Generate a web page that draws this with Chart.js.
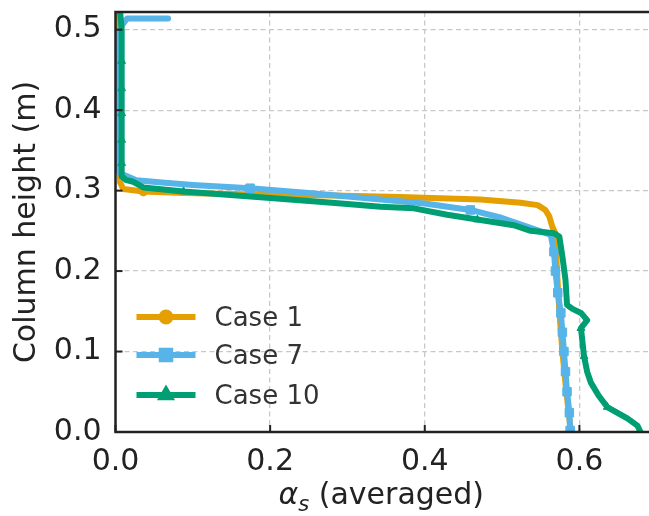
<!DOCTYPE html>
<html>
<head>
<meta charset="utf-8">
<script src="https://cdn.jsdelivr.net/npm/chart.js@4.4.1/dist/chart.umd.min.js"></script>
<style>
html, body { margin: 0; padding: 0; background: #fff; }
#caixa { position: relative; width: 649px; height: 516px; }
</style>
</head>
<body>
<div id="caixa"><canvas id="grafico"></canvas></div>
<script>
// alpha_s (averaged) vs column height
var case1Alpha  = [0.004, 0.003, 0.004, 0.005, 0.005, 0.006, 0.010, 0.036, 0.088, 0.196, 0.282, 0.368, 0.472, 0.524, 0.546, 0.556, 0.561, 0.565, 0.569, 0.571, 0.574, 0.578, 0.582, 0.586, 0.589];
var case1Height = [0.522, 0.505, 0.450, 0.400, 0.350, 0.310, 0.302, 0.299, 0.297, 0.295, 0.294, 0.292, 0.289, 0.285, 0.282, 0.276, 0.268, 0.255, 0.247, 0.200, 0.150, 0.100, 0.060, 0.025, 0.000];
var case1Marks  = [1, 7];

var case7Alpha  = [0.068, 0.015, 0.008, 0.003, 0.003, 0.003, 0.003, 0.003, 0.003, 0.003, 0.005, 0.012, 0.027, 0.060, 0.100, 0.174, 0.250, 0.343, 0.400, 0.459, 0.500, 0.533, 0.563, 0.567, 0.569, 0.572, 0.576, 0.578, 0.580, 0.582, 0.584, 0.587, 0.588];
var case7Height = [0.514, 0.514, 0.505, 0.490, 0.477, 0.450, 0.421, 0.394, 0.363, 0.334, 0.322, 0.319, 0.313, 0.310, 0.307, 0.303, 0.297, 0.289, 0.284, 0.276, 0.266, 0.255, 0.245, 0.224, 0.200, 0.173, 0.148, 0.124, 0.100, 0.075, 0.050, 0.024, 0.002];
var case7Marks  = [4, 5, 6, 7, 8, 9, 15, 19, 23, 24, 25, 26, 27, 28, 29, 30, 31, 32];

var case10Alpha  = [0.006, 0.008, 0.008, 0.008, 0.008, 0.008, 0.008, 0.008, 0.014, 0.023, 0.036, 0.088, 0.196, 0.280, 0.343, 0.386, 0.429, 0.468, 0.515, 0.537, 0.567, 0.574, 0.578, 0.582, 0.584, 0.591, 0.602, 0.610, 0.602, 0.606, 0.610, 0.615, 0.625, 0.636, 0.662, 0.675, 0.679];
var case10Height = [0.522, 0.500, 0.461, 0.427, 0.396, 0.363, 0.334, 0.318, 0.313, 0.311, 0.304, 0.299, 0.291, 0.285, 0.280, 0.278, 0.270, 0.264, 0.257, 0.250, 0.247, 0.243, 0.218, 0.189, 0.158, 0.153, 0.148, 0.139, 0.129, 0.094, 0.075, 0.061, 0.045, 0.031, 0.017, 0.008, 0.000];
var case10Marks  = [2, 3, 4, 5, 6, 11, 17, 28, 29, 33];

var seriesNames  = ['Case 1', 'Case 7', 'Case 10'];
var seriesColors = ['#E69F00', '#56B4E9', '#009E73'];
var xTicks = [0.0, 0.2, 0.4, 0.6];
var yTicks = [0.0, 0.1, 0.2, 0.3, 0.4, 0.5];

var FONTE = "'DejaVu Sans', sans-serif";

function pontos(xs, ys) {
    return xs.map(function (x, i) { return { x: x, y: ys[i] }; });
}

function raio(marks, r) {
    return function (c) { return marks.indexOf(c.dataIndex) >= 0 ? r : 0; };
}

function linha(ctx, x1, y1, x2, y2) {
    ctx.beginPath();
    ctx.moveTo(x1, y1);
    ctx.lineTo(x2, y2);
    ctx.stroke();
}

// frame, inward ticks, x title and legend
var extras = {
    id: 'extras',
    afterDraw: function (chart) {
        var ctx = chart.ctx, a = chart.chartArea;
        var sx = chart.scales.x, sy = chart.scales.y;
        ctx.save();

        // legend (no frame)
        var estilos = ['circle', 'rect', 'triangle'];
        var raios = [4.5, 6, 4.5];
        var lx = a.left + 21, lw = 59;
        var linhasY = [a.bottom - 115, a.bottom - 77, a.bottom - 37];
        for (var i = 0; i < 3; i++) {
            ctx.strokeStyle = seriesColors[i];
            ctx.fillStyle = seriesColors[i];
            ctx.lineWidth = 6;
            ctx.lineCap = 'butt';
            linha(ctx, lx, linhasY[i], lx + lw, linhasY[i]);
            Chart.helpers.drawPoint(ctx, { pointStyle: estilos[i], radius: raios[i], borderWidth: 1 }, lx + lw / 2, linhasY[i]);
            ctx.fillStyle = '#333';
            ctx.font = '26px ' + FONTE;
            ctx.textAlign = 'left';
            ctx.textBaseline = 'middle';
            ctx.fillText(seriesNames[i], lx + 78, linhasY[i] + 2);
        }

        // frame: left, top, bottom (right side falls off the canvas)
        ctx.strokeStyle = '#222';
        ctx.lineWidth = 2.5;
        ctx.lineCap = 'square';
        ctx.beginPath();
        ctx.moveTo(a.right, a.top);
        ctx.lineTo(a.left, a.top);
        ctx.lineTo(a.left, a.bottom);
        ctx.lineTo(a.right, a.bottom);
        ctx.stroke();

        // ticks pointing inwards
        ctx.lineWidth = 2;
        ctx.lineCap = 'butt';
        xTicks.forEach(function (v) {
            var px = sx.getPixelForValue(v);
            linha(ctx, px, a.bottom, px, a.bottom - 7);
        });
        yTicks.forEach(function (v) {
            var py = sy.getPixelForValue(v);
            linha(ctx, a.left, py, a.left + 7, py);
        });

        // x title: alpha_s (averaged)
        ctx.fillStyle = '#222';
        ctx.textBaseline = 'alphabetic';
        ctx.textAlign = 'left';
        var fAlfa = 'italic 30px ' + FONTE, fSub = 'italic 21px ' + FONTE, fTxt = '30px ' + FONTE;
        ctx.font = fAlfa; var w1 = ctx.measureText('α').width;
        ctx.font = fSub;  var w2 = ctx.measureText('s').width;
        ctx.font = fTxt;  var w3 = ctx.measureText(' (averaged)').width;
        var cx = (a.left + a.right) / 2 - 1;
        var x0 = cx - (w1 + w2 + w3) / 2, base = 504;
        ctx.font = fAlfa; ctx.fillText('α', x0, base);
        ctx.font = fSub;  ctx.fillText('s', x0 + w1, base + 7);
        ctx.font = fTxt;  ctx.fillText(' (averaged)', x0 + w1 + w2, base);

        // y title
        ctx.translate(27, (a.top + a.bottom) / 2);
        ctx.rotate(-Math.PI / 2);
        ctx.textAlign = 'center';
        ctx.textBaseline = 'middle';
        ctx.font = '30px ' + FONTE;
        ctx.fillText('Column height (m)', 0, 0);
        ctx.restore();
    }
};

var ctxGrafico = document.getElementById('grafico').getContext('2d');
new Chart(ctxGrafico, {
    type: 'line',
    data: {
        datasets: [{
            label: seriesNames[0],
            data: pontos(case1Alpha, case1Height),
            borderColor: seriesColors[0],
            backgroundColor: seriesColors[0],
            borderWidth: 6,
            pointStyle: 'circle',
            pointRadius: raio(case1Marks, 4.5),
            pointBorderWidth: 1,
            order: 3
        }, {
            label: seriesNames[1],
            data: pontos(case7Alpha, case7Height),
            borderColor: seriesColors[1],
            backgroundColor: seriesColors[1],
            borderWidth: 6,
            pointStyle: 'rect',
            pointRadius: raio(case7Marks, 6),
            pointBorderWidth: 1,
            order: 2
        }, {
            label: seriesNames[2],
            data: pontos(case10Alpha, case10Height),
            borderColor: seriesColors[2],
            backgroundColor: seriesColors[2],
            borderWidth: 6,
            pointStyle: 'triangle',
            pointRadius: raio(case10Marks, 4.5),
            pointBorderWidth: 1,
            order: 1
        }]
    },
    options: {
        responsive: true,
        maintainAspectRatio: false,
        animation: false,
        layout: { autoPadding: false, padding: { top: 12, right: 0, left: 0, bottom: 0 } },
        elements: {
            line: { tension: 0, borderJoinStyle: 'round', borderCapStyle: 'round', fill: false }
        },
        plugins: {
            legend: { display: false },
            tooltip: { enabled: false }
        },
        scales: {
            x: {
                type: 'linear',
                min: 0,
                max: 0.69,
                afterFit: function (s) { s.height = 84; s.paddingLeft = 0; s.paddingRight = 0; },
                afterBuildTicks: function (s) { s.ticks = xTicks.map(function (v) { return { value: v }; }); },
                ticks: {
                    padding: 12,
                    color: '#222',
                    font: { family: FONTE, size: 30 },
                    callback: function (v) { return Number(v).toFixed(1); }
                },
                grid: { color: '#c8c8c8', lineWidth: 1.3, drawTicks: false, tickLength: 0 },
                border: { display: false, dash: [5, 3.5] }
            },
            y: {
                type: 'linear',
                min: 0,
                max: 0.522,
                afterFit: function (s) { s.width = 115.5; s.paddingTop = 0; s.paddingBottom = 0; },
                afterBuildTicks: function (s) { s.ticks = yTicks.map(function (v) { return { value: v }; }); },
                ticks: {
                    padding: 14,
                    color: '#222',
                    font: { family: FONTE, size: 30 },
                    callback: function (v) { return Number(v).toFixed(1); }
                },
                grid: { color: '#c8c8c8', lineWidth: 1.3, drawTicks: false, tickLength: 0 },
                border: { display: false, dash: [5, 3.5] }
            }
        }
    },
    plugins: [extras]
});
</script>
</body>
</html>
